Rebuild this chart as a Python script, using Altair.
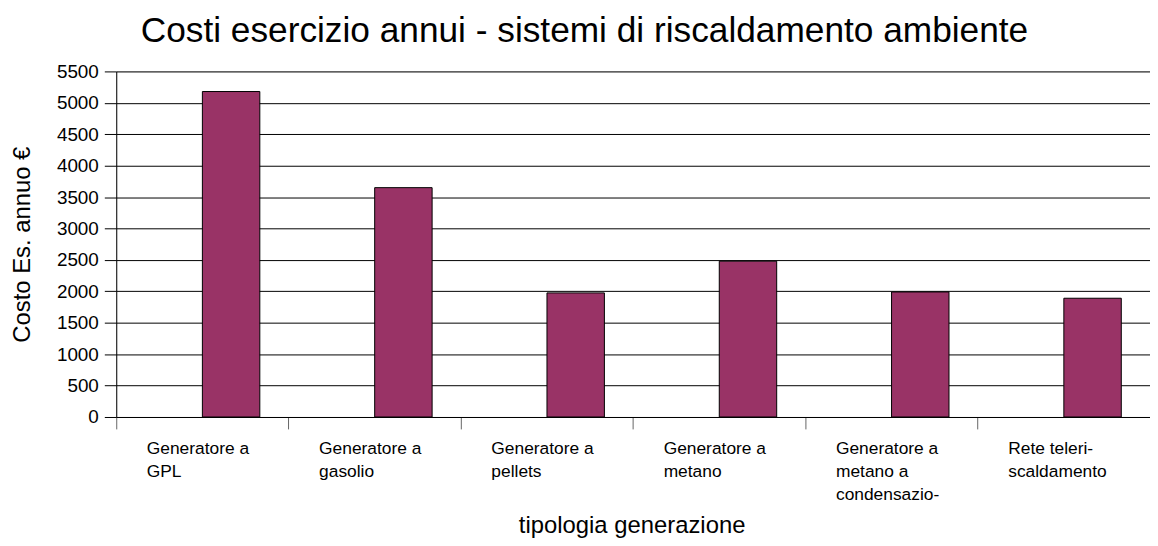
import altair as alt
import pandas as pd

categories = [
    "Generatore a|GPL",
    "Generatore a|gasolio",
    "Generatore a|pellets",
    "Generatore a|metano",
    "Generatore a|metano a|condensazio-",
    "Rete teleri-|scaldamento",
]
values = [5180, 3650, 1975, 2480, 1990, 1890]
series = ["Serie1", "Serie2"]
y_ticks = list(range(0, 5501, 500))

df = pd.DataFrame({"cat": categories, "val": values, "serie": "Serie2"})

FONT = "Liberation Sans"

bars = alt.Chart(df).mark_bar(color="#993366", stroke="black", strokeWidth=1).encode(
    x=alt.X(
        "cat:N",
        sort=categories,
        scale=alt.Scale(paddingInner=0, paddingOuter=0),
        axis=alt.Axis(
            title="tipologia generazione",
            titleFont=FONT,
            titleFontSize=24,
            titleFontWeight="normal",
            titleColor="black",
            titleX=519,
            titleY=116,
            titleAlign="center",
            titleBaseline="alphabetic",
            labelFont=FONT,
            labelFontSize=17.5,
            labelColor="black",
            labelAngle=0,
            labelAlign="left",
            labelBaseline="top",
            labelOffset=-56,
            labelPadding=11,
            labelLineHeight=23,
            labelExpr="split(datum.label, '|')",
            bandPosition=0,
            tickSize=12,
            tickColor="#666666",
            domainColor="black",
            grid=False,
            labelOverlap=False,
        ),
    ),
    xOffset=alt.XOffset(
        "serie:N",
        scale=alt.Scale(domain=series, paddingInner=0, paddingOuter=0.5),
    ),
    y=alt.Y(
        "val:Q",
        scale=alt.Scale(domain=[0, 5500], nice=False),
        axis=alt.Axis(
            title="Costo Es. annuo €",
            titleFont=FONT,
            titleFontSize=24,
            titleFontWeight="normal",
            titleColor="black",
            titleX=-87,
            titleY=174,
            titleAlign="center",
            titleBaseline="alphabetic",
            titleAngle=270,
            labelFont=FONT,
            labelFontSize=19,
            labelColor="black",
            labelPadding=6,
            format="d",
            values=y_ticks,
            tickSize=12,
            tickColor="black",
            domainColor="black",
            gridColor="black",
            gridWidth=1,
        ),
    ),
)

chart = bars.properties(
    width=1041,
    height=348,
    title=alt.TitleParams(
        "Costi esercizio annui - sistemi di riscaldamento ambiente",
        font=FONT,
        fontSize=35.5,
        fontWeight="normal",
        color="black",
        anchor="middle",
        dx=-49,
        offset=13,
    ),
    autosize=alt.AutoSizeParams(type="none"),
    padding={"left": 109, "top": 62, "right": 0, "bottom": 120},
).configure_view(stroke=None).configure(background="white")

chart.save("out.html", embed_options={"renderer": "svg", "actions": False})
